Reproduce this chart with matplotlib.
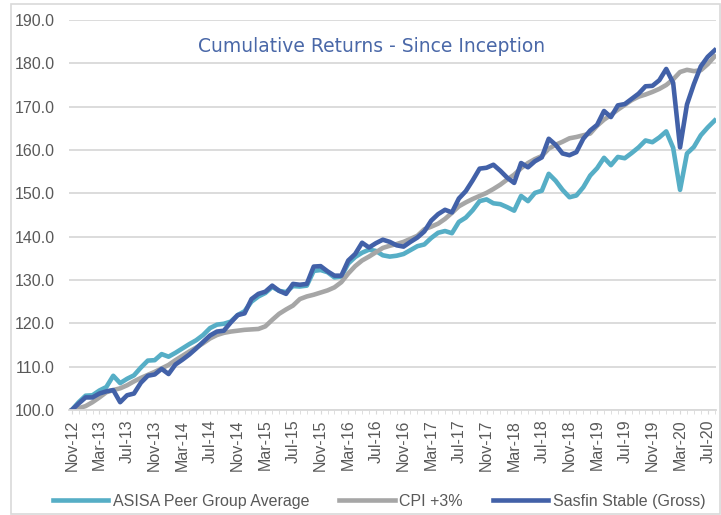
import numpy as np
import matplotlib
matplotlib.use("Agg")
import matplotlib.pyplot as plt
from matplotlib.patches import Rectangle

# monthly index values, Nov-12 .. Aug-20
months = [f"{m}-{y:02d}" for y in range(12, 21) for m in
          ["Jan", "Feb", "Mar", "Apr", "May", "Jun", "Jul", "Aug", "Sep", "Oct", "Nov", "Dec"]]
months = months[10:10 + 94]

peer = [100.0, 101.8, 103.3, 103.4, 104.5, 105.3, 107.9, 106.2, 107.2, 108.0,
        109.8, 111.4, 111.5, 112.9, 112.3, 113.2, 114.2, 115.2, 116.1, 117.3,
        118.9, 119.7, 119.9, 120.4, 121.9, 122.8, 125.0, 126.2, 127.0, 128.4,
        127.5, 127.2, 128.6, 128.5, 128.7, 132.1, 132.3, 131.8, 130.6, 130.8,
        133.8, 135.3, 136.3, 137.0, 136.7, 135.7, 135.4, 135.6, 136.0, 136.9,
        137.8, 138.2, 139.7, 140.9, 141.3, 140.8, 143.4, 144.4, 146.1, 148.2,
        148.6, 147.7, 147.5, 146.8, 146.0, 149.4, 148.2, 150.1, 150.6, 154.5,
        152.9, 150.8, 149.1, 149.5, 151.4, 154.1, 155.8, 158.2, 156.5, 158.4,
        158.1, 159.3, 160.6, 162.2, 161.8, 162.9, 164.3, 160.5, 150.8, 159.2,
        160.7, 163.4, 165.2, 166.8]

cpi = [100.0, 100.4, 100.9, 101.8, 102.9, 104.1, 104.6, 105.0, 105.7, 106.6,
       107.4, 108.1, 108.8, 109.6, 110.4, 111.5, 112.5, 113.5, 114.4, 115.4,
       116.5, 117.3, 117.8, 118.1, 118.3, 118.5, 118.6, 118.7, 119.3, 120.8,
       122.2, 123.2, 124.1, 125.6, 126.2, 126.6, 127.1, 127.6, 128.3, 129.5,
       131.5, 133.2, 134.5, 135.4, 136.4, 137.4, 137.9, 138.3, 138.8, 139.5,
       140.2, 141.7, 142.3, 143.0, 144.1, 145.5, 147.0, 147.9, 148.7, 149.4,
       150.1, 151.0, 152.0, 153.2, 154.3, 155.8, 157.0, 157.9, 158.6, 160.3,
       161.2, 161.9, 162.7, 163.0, 163.4, 163.8, 165.6, 167.0, 168.1, 169.3,
       170.4, 171.5, 172.3, 172.8, 173.4, 174.1, 175.0, 176.3, 178.0, 178.5,
       178.2, 178.4, 179.8, 181.6]

sasfin = [100.0, 101.5, 102.9, 102.9, 103.8, 104.3, 104.6, 101.8, 103.4, 103.8,
          106.3, 107.9, 108.2, 109.5, 108.3, 110.5, 111.6, 112.8, 114.2, 115.7,
          117.2, 118.1, 118.3, 120.2, 121.9, 122.3, 125.6, 126.8, 127.3, 128.7,
          127.5, 126.8, 129.1, 128.9, 129.1, 133.1, 133.2, 132.0, 131.0, 131.0,
          134.5, 136.0, 138.6, 137.5, 138.5, 139.3, 138.8, 138.0, 137.7, 138.8,
          139.8, 141.2, 143.7, 145.2, 146.2, 145.6, 148.8, 150.5, 153.0, 155.7,
          155.9, 156.6, 155.2, 153.6, 152.4, 157.0, 156.0, 157.4, 158.3, 162.6,
          161.2, 159.2, 158.8, 159.5, 162.6, 164.5, 165.8, 169.0, 167.6, 170.3,
          170.6, 171.8, 173.0, 174.7, 174.8, 176.1, 178.7, 175.5, 160.6, 170.5,
          175.2, 179.3, 181.5, 183.0]

TEAL, GREY, NAVY = "#56AEC6", "#A6A6A6", "#4261A8"
TXT = "#595959"

fig = plt.figure(figsize=(7.21, 5.15), dpi=100)
ax = fig.add_axes([69 / 721, 105 / 515, 647 / 721, 390 / 515])
fig.add_artist(Rectangle((11 / 721, 0.002), 709 / 721, 510 / 515, transform=fig.transFigure,
                         fill=False, edgecolor="#D9D9D9", linewidth=1.2))

x = np.arange(len(months))
ax.plot(x, peer, color=TEAL, lw=3.3, label="ASISA Peer Group Average", solid_joinstyle="round")
ax.plot(x, cpi, color=GREY, lw=3.3, label="CPI +3%", solid_joinstyle="round")
ax.plot(x, sasfin, color=NAVY, lw=3.3, label="Sasfin Stable (Gross)", solid_joinstyle="round")

ax.set_xlim(-0.4, 93.2)
ax.set_ylim(100, 190)
ax.set_yticks(np.arange(100, 191, 10))
ax.yaxis.set_major_formatter(matplotlib.ticker.FormatStrFormatter("%.1f"))
ax.grid(axis="y", color="#D9D9D9", lw=1.3)
ax.set_axisbelow(True)

ax.set_xticks(x[::4])
ax.set_xticklabels(months[::4], rotation=90)
ax.set_xticks(x, minor=True)
ax.tick_params(axis="x", which="both", length=3, color="#D9D9D9", pad=4)
ax.tick_params(axis="y", length=0, pad=10)
ax.tick_params(labelsize=11.5, labelcolor=TXT)
for lab in ax.get_xticklabels() + ax.get_yticklabels():
    lab.set_family("Liberation Sans")

for s in ["top", "right", "left"]:
    ax.spines[s].set_visible(False)
ax.spines["bottom"].set_color("#D9D9D9")
ax.spines["bottom"].set_linewidth(1.3)

fig.text(372 / 721, 1 - 47 / 515, "Cumulative Returns - Since Inception", ha="center", va="center",
         color="#4A68A8", fontsize=13.5, family="DejaVu Sans")

fig.legend(loc="center", bbox_to_anchor=(0.526, 0.027), ncol=3, frameon=False,
           handlelength=3.45, columnspacing=1.9, handletextpad=0.3,
           prop={"family": "Liberation Sans", "size": 11.5}, labelcolor=TXT)

fig.savefig("out.png", dpi=100)
